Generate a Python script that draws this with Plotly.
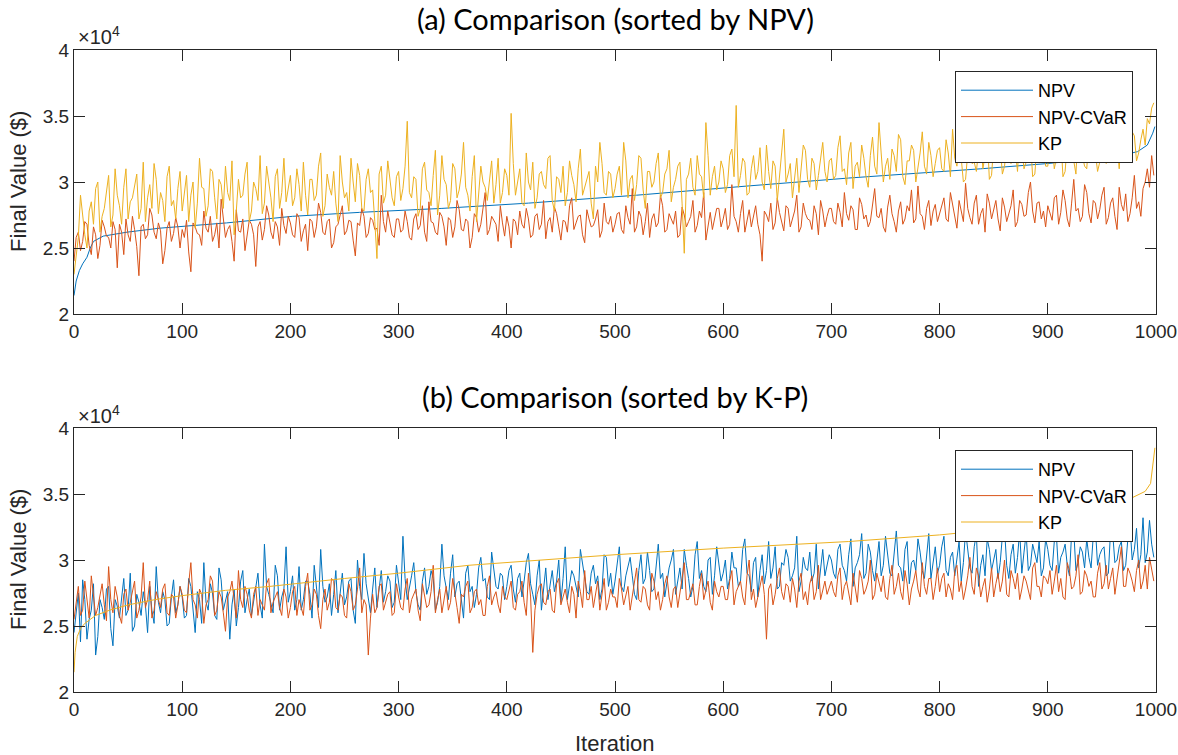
import plotly.graph_objects as go

# ---------------- data (values in units of 10^4 $) ----------------
iters = list(range(0, 1000, 4))          # sampled iterations (set 1)
iters_mid = list(range(2, 1000, 4))      # sampled iterations (set 2, in between)
x_ticks = list(range(0, 1001, 100))
y_ticks = [2, 2.5, 3, 3.5, 4]
y_tick_text = ["2", "2.5", "3", "3.5", "4"]

# (a) sorted by NPV: NPV curve (smooth, sorted)
a_npv_x = [0, 2, 5, 8, 12, 15, 18, 27, 49, 79, 141, 202, 264, 340, 420, 520, 623, 716, 838, 900, 962, 983, 992, 997, 999]
a_npv_y = [2.14, 2.25, 2.33, 2.38, 2.43, 2.50, 2.55, 2.59, 2.62, 2.65, 2.69, 2.74, 2.77, 2.80, 2.84, 2.90, 2.97, 3.03, 3.10, 3.14, 3.19, 3.23, 3.28, 3.37, 3.42]

a_cvar = [
    2.40, 2.62, 2.55, 2.68, 2.45, 2.60, 2.52, 2.66, 2.58, 2.70, 2.35, 2.62, 2.72, 2.55, 2.64, 2.29, 2.68, 2.60, 2.75, 2.57, 2.63, 2.48, 2.70, 2.61, 2.66,
    2.64, 2.71, 2.32, 2.66, 2.60, 2.78, 2.62, 2.55, 2.69, 2.87, 2.58, 2.67, 2.40, 2.63, 2.72, 2.59, 2.68, 2.36, 2.70, 2.64, 2.75, 2.57, 2.66, 2.80, 2.61,
    2.69, 2.58, 2.73, 2.63, 2.48, 2.70, 2.66, 2.77, 2.60, 2.72, 2.54, 2.68, 2.82, 2.63, 2.70, 2.44, 2.67, 2.74, 2.61, 2.71, 2.65, 2.90, 2.62, 2.69, 2.58,
    2.72, 2.64, 2.70, 2.56, 2.76, 2.67, 2.62, 2.85, 2.69, 2.60, 2.74, 2.52, 2.71, 2.66, 2.79, 2.63, 2.70, 2.58, 2.73, 2.68, 2.92, 2.64, 2.71, 2.55, 2.69,
    2.74, 2.50, 2.70, 2.78, 2.65, 2.72, 2.60, 2.76, 2.68, 2.57, 2.73, 2.81, 2.66, 2.71, 2.62, 2.88, 2.69, 2.75, 2.54, 2.72, 2.67, 2.79, 2.63, 2.70, 2.74,
    2.68, 2.77, 2.61, 2.73, 2.95, 2.66, 2.74, 2.70, 2.58, 2.76, 2.69, 2.82, 2.64, 2.72, 2.78, 2.60, 2.75, 2.70, 2.86, 2.67, 2.73, 2.56, 2.77, 2.71, 2.80,
    2.72, 2.64, 2.98, 2.70, 2.76, 2.62, 2.79, 2.73, 2.68, 2.40, 2.75, 2.84, 2.69, 2.77, 2.63, 2.80, 2.72, 2.90, 2.66, 2.76, 2.71, 2.82, 2.60, 2.78, 2.74,
    2.80, 2.68, 2.77, 2.92, 2.71, 2.79, 2.64, 2.83, 2.75, 2.70, 2.95, 2.73, 2.66, 2.81, 2.76, 2.62, 2.85, 2.72, 2.78, 2.69, 2.97, 2.74, 2.80, 2.67, 2.83,
    2.76, 2.88, 2.70, 2.82, 2.65, 2.79, 2.99, 2.73, 2.84, 2.68, 2.80, 2.91, 2.72, 2.86, 2.63, 2.81, 2.77, 2.94, 2.70, 2.83, 2.75, 3.00, 2.69, 2.85, 2.78,
    2.82, 2.71, 2.90, 2.77, 2.86, 2.66, 3.02, 2.80, 2.74, 2.92, 2.69, 2.84, 2.79, 2.96, 2.73, 2.88, 2.64, 2.83, 2.91, 2.76, 3.05, 2.85, 2.95, 3.10, 3.20,
]
a_cvar_mid = [
    2.58, 2.48, 2.70, 2.52, 2.66, 2.42, 2.71, 2.59, 2.50, 2.64, 2.68, 2.45, 2.60, 2.74, 2.51, 2.66, 2.57, 2.80, 2.62, 2.69, 2.38, 2.65, 2.55, 2.73, 2.50,
    2.58, 2.47, 2.69, 2.61, 2.52, 2.65, 2.74, 2.60, 2.50, 2.70, 2.64, 2.55, 2.79, 2.62, 2.48, 2.71, 2.60, 2.66, 2.56, 2.82, 2.62, 2.70, 2.52, 2.67, 2.74,
    2.60, 2.76, 2.55, 2.68, 2.72, 2.58, 2.84, 2.62, 2.70, 2.50, 2.66, 2.76, 2.60, 2.71, 2.56, 2.69, 2.80, 2.58, 2.73, 2.64, 2.52, 2.70, 2.78, 2.60, 2.72,
    2.62, 2.78, 2.58, 2.72, 2.64, 2.82, 2.55, 2.70, 2.62, 2.77, 2.66, 2.73, 2.58, 2.86, 2.64, 2.72, 2.50, 2.76, 2.62, 2.80, 2.60, 2.74, 2.68, 2.82, 2.59,
    2.66, 2.72, 2.60, 2.68, 2.80, 2.58, 2.74, 2.64, 2.86, 2.70, 2.62, 2.76, 2.56, 2.70, 2.82, 2.64, 2.74, 2.60, 2.79, 2.66, 2.72, 2.58, 2.84, 2.68, 2.62,
    2.76, 2.64, 2.82, 2.68, 2.62, 2.78, 2.60, 2.84, 2.72, 2.66, 2.90, 2.62, 2.76, 2.68, 2.58, 2.81, 2.66, 2.74, 2.62, 2.78, 2.92, 2.68, 2.64, 2.80, 2.66,
    2.80, 2.68, 2.74, 2.62, 2.86, 2.72, 2.66, 2.82, 2.60, 2.78, 2.70, 2.64, 2.88, 2.70, 2.82, 2.66, 2.78, 2.62, 2.84, 2.72, 2.64, 2.76, 2.86, 2.66, 2.80,
    2.70, 2.84, 2.66, 2.76, 2.82, 2.64, 2.88, 2.72, 2.66, 2.84, 2.74, 2.80, 2.62, 2.90, 2.70, 2.78, 2.68, 2.82, 2.94, 2.72, 2.76, 2.64, 2.86, 2.78, 2.70,
    2.84, 2.72, 2.92, 2.74, 2.86, 2.70, 2.80, 2.68, 2.90, 2.76, 2.62, 2.84, 2.78, 2.72, 2.88, 2.70, 2.82, 2.66, 2.86, 2.74, 2.92, 2.78, 2.84, 2.72, 2.66,
    2.76, 2.88, 2.68, 2.94, 2.72, 2.84, 2.78, 2.70, 2.98, 2.76, 2.86, 2.72, 2.90, 2.68, 2.84, 2.74, 2.96, 2.78, 2.70, 2.88, 2.80, 2.74, 3.00, 2.96, 3.05,
]

a_kp = [
    2.30, 2.58, 2.72, 2.50, 2.85, 2.95, 2.62, 2.80, 3.05, 2.75, 2.90, 2.68, 3.10, 2.85, 2.98, 2.72, 3.15, 2.88, 2.80, 3.02, 2.92, 2.70, 3.12, 2.86, 2.95,
    2.78, 3.05, 2.90, 2.65, 3.18, 2.95, 2.82, 3.08, 2.72, 2.98, 3.12, 2.86, 2.60, 3.02, 2.90, 3.15, 2.78, 2.95, 3.20, 2.84, 3.00, 2.70, 3.10, 2.92, 2.85,
    3.05, 2.88, 2.98, 3.15, 2.75, 3.02, 2.90, 3.22, 2.82, 2.96, 3.08, 2.70, 3.00, 2.92, 3.18, 2.85, 3.05, 2.78, 3.10, 2.94, 2.42, 3.12, 2.90, 3.00, 2.82,
    3.08, 2.95, 3.46, 2.88, 3.02, 2.80, 3.15, 2.92, 3.05, 2.75, 3.20, 2.98, 2.86, 3.10, 2.94, 3.30, 2.90, 3.04, 2.70, 3.12, 2.96, 3.00, 2.84, 3.18, 2.92,
    3.05, 3.52, 2.90, 3.10, 2.82, 3.00, 3.15, 2.88, 3.08, 2.95, 3.20, 2.78, 3.02, 3.12, 2.92, 3.05, 2.85, 3.25, 2.96, 3.08, 2.72, 3.00, 3.14, 2.90, 3.06,
    2.95, 3.12, 3.30, 2.88, 3.05, 2.98, 3.18, 2.80, 3.08, 3.00, 3.22, 2.92, 3.10, 2.85, 3.02, 3.15, 2.46, 3.06, 2.96, 3.20, 3.04, 3.45, 2.90, 3.12, 3.00,
    3.10, 2.98, 3.25, 3.58, 3.05, 3.15, 2.92, 3.20, 3.08, 3.00, 3.28, 2.95, 3.12, 3.02, 3.40, 3.06, 2.88, 3.18, 3.10, 3.24, 2.96, 3.14, 3.05, 3.30, 3.00,
    3.18, 3.05, 3.35, 3.10, 3.22, 2.95, 3.15, 3.28, 3.04, 3.20, 3.12, 3.45, 3.00, 3.18, 3.25, 3.08, 3.32, 2.98, 3.16, 3.24, 3.10, 3.38, 3.06, 3.20, 3.14,
    3.26, 3.08, 3.22, 3.40, 3.12, 3.18, 3.02, 3.30, 3.15, 3.24, 3.10, 3.36, 3.05, 3.20, 3.28, 3.12, 3.42, 3.18, 3.08, 3.25, 3.15, 3.32, 3.06, 3.22, 3.30,
    3.12, 3.28, 3.18, 3.35, 3.08, 3.24, 3.16, 3.40, 3.20, 3.10, 3.30, 3.22, 3.15, 3.38, 3.25, 3.18, 3.32, 3.45, 3.20, 3.28, 3.35, 3.22, 3.40, 3.48, 3.56,
]
a_kp_mid = [
    2.45, 2.90, 2.60, 2.78, 2.68, 3.00, 2.74, 2.92, 2.66, 3.10, 2.82, 2.96, 2.72, 2.88, 3.06, 2.80, 2.70, 2.98, 3.14, 2.76, 2.86, 3.04, 2.82, 2.72, 3.08,
    2.92, 2.70, 3.00, 2.84, 2.96, 2.74, 3.10, 2.88, 3.02, 2.80, 2.92, 3.16, 2.78, 2.88, 3.06, 2.70, 3.00, 2.86, 2.76, 3.12, 2.88, 3.04, 2.80, 3.18, 2.94,
    2.82, 3.10, 2.78, 2.90, 3.02, 2.86, 3.12, 2.74, 3.06, 2.90, 2.84, 3.20, 2.88, 2.78, 3.00, 3.14, 2.80, 3.02, 2.92, 2.70, 3.06, 2.84, 3.16, 2.88, 3.04,
    2.86, 3.12, 2.92, 3.04, 2.74, 3.10, 2.94, 2.82, 3.24, 2.90, 3.02, 2.80, 3.14, 2.88, 3.06, 2.96, 2.78, 3.20, 2.92, 3.00, 2.86, 3.16, 2.98, 2.84, 3.10,
    2.90, 3.14, 3.02, 2.84, 3.22, 2.94, 2.80, 3.06, 2.98, 3.18, 2.86, 3.04, 2.92, 2.82, 3.16, 2.98, 3.10, 2.90, 3.04, 2.84, 3.12, 3.30, 2.92, 3.08, 2.88,
    3.06, 2.90, 3.16, 3.02, 2.86, 3.20, 2.94, 3.08, 2.96, 3.14, 2.88, 3.06, 3.24, 2.96, 3.12, 2.84, 3.02, 3.18, 2.90, 3.06, 2.88, 3.20, 3.04, 2.94, 3.16,
    2.92, 3.20, 3.04, 2.96, 3.18, 2.90, 3.10, 3.02, 3.26, 2.94, 3.08, 3.16, 2.86, 3.22, 3.00, 3.14, 3.04, 2.92, 3.28, 3.02, 3.18, 2.94, 3.20, 3.08, 3.16,
    3.02, 3.26, 3.08, 2.98, 3.30, 3.12, 3.04, 3.18, 2.96, 3.34, 3.06, 3.22, 3.12, 3.02, 3.20, 3.36, 3.04, 3.16, 3.28, 3.00, 3.22, 3.12, 3.30, 3.04, 3.24,
    3.10, 3.32, 3.04, 3.18, 3.26, 3.00, 3.22, 3.14, 3.08, 3.34, 3.20, 3.02, 3.28, 3.16, 3.06, 3.30, 3.14, 3.24, 3.36, 3.10, 3.20, 3.04, 3.28, 3.16, 3.12,
    3.34, 3.10, 3.26, 3.04, 3.30, 3.18, 3.06, 3.28, 3.12, 3.36, 3.20, 3.08, 3.32, 3.14, 3.40, 3.22, 3.10, 3.30, 3.26, 3.38, 3.16, 3.32, 3.28, 3.44, 3.60,
]

# (b) sorted by K-P: KP curve (smooth, sorted)
b_kp_x = [0, 1, 3, 6, 10, 20, 33, 50, 75, 100, 140, 181, 250, 300, 365, 430, 500, 600, 716, 800, 851, 900, 940, 960, 978, 990, 995, 997, 999]
b_kp_y = [2.15, 2.30, 2.42, 2.48, 2.52, 2.58, 2.62, 2.66, 2.70, 2.73, 2.77, 2.80, 2.86, 2.90, 2.96, 3.00, 3.04, 3.09, 3.14, 3.19, 3.23, 3.27, 3.32, 3.40, 3.47, 3.52, 3.58, 3.70, 3.85]

b_npv = [
    2.45, 2.75, 2.85, 2.40, 2.62, 2.28, 2.70, 2.55, 2.80, 2.35, 2.65, 2.72, 2.58, 2.90, 2.50, 2.68, 2.76, 2.45, 2.62, 2.95, 2.60, 2.70, 2.52, 2.85, 2.66,
    2.72, 2.58, 2.80, 2.45, 2.70, 2.98, 2.62, 2.75, 2.55, 2.85, 2.68, 2.40, 2.78, 2.64, 2.92, 2.70, 2.58, 2.82, 2.66, 3.12, 2.74, 2.60, 2.88, 2.72, 3.10,
    2.76, 2.62, 2.95, 2.70, 2.84, 2.56, 2.78, 3.08, 2.68, 2.82, 2.74, 2.60, 2.90, 2.72, 2.86, 2.52, 2.80, 3.05, 2.70, 2.78, 2.64, 2.92, 2.76, 2.84, 2.68,
    2.82, 3.18, 2.70, 2.88, 2.76, 2.62, 2.94, 2.80, 2.86, 2.68, 3.12, 2.78, 2.90, 2.72, 2.84, 2.56, 2.96, 2.80, 2.74, 3.02, 2.86, 2.70, 2.92, 2.78, 2.88,
    2.80, 2.96, 2.68, 2.90, 2.84, 3.05, 2.74, 2.88, 2.62, 2.94, 2.82, 2.76, 3.00, 2.86, 2.70, 2.92, 2.80, 3.08, 2.84, 2.74, 2.96, 2.88, 2.78, 3.02, 2.90,
    2.84, 3.10, 2.76, 2.96, 2.88, 2.70, 3.04, 2.86, 2.92, 2.78, 3.12, 2.90, 2.82, 3.00, 2.74, 2.94, 3.08, 2.86, 2.80, 3.14, 2.92, 2.76, 3.02, 2.88, 2.96,
    2.90, 2.78, 3.06, 2.94, 2.84, 3.16, 2.88, 2.98, 2.72, 3.04, 2.92, 2.86, 3.10, 2.80, 2.96, 3.02, 2.88, 3.18, 2.84, 2.94, 3.06, 2.90, 2.78, 3.08, 2.96,
    3.00, 2.86, 3.12, 2.92, 3.04, 2.80, 2.98, 3.20, 2.90, 3.06, 2.84, 3.14, 2.96, 3.02, 2.88, 3.22, 2.94, 3.08, 2.82, 3.00, 3.16, 2.92, 3.04, 2.86, 3.10,
    2.96, 3.18, 2.88, 3.06, 3.00, 2.84, 3.22, 2.94, 3.10, 2.80, 3.04, 3.16, 2.92, 3.08, 2.98, 3.24, 2.86, 3.12, 3.02, 2.90, 3.20, 2.96, 3.06, 3.14, 2.94,
    3.08, 2.92, 3.18, 3.02, 3.12, 2.88, 3.22, 2.98, 3.06, 3.16, 2.94, 3.24, 3.04, 3.10, 2.90, 3.20, 3.00, 3.14, 2.96, 3.26, 3.08, 2.94, 3.32, 3.06, 3.12,
]
b_npv_mid = [
    2.60, 2.38, 2.70, 2.55, 2.82, 2.42, 2.64, 2.78, 2.48, 2.70, 2.56, 2.86, 2.62, 2.46, 2.74, 2.58, 2.66, 2.80, 2.52, 2.68, 2.76, 2.50, 2.72, 2.60, 2.80,
    2.56, 2.86, 2.64, 2.76, 2.52, 2.68, 2.82, 2.58, 2.94, 2.62, 2.76, 2.66, 2.50, 2.84, 2.60, 2.78, 2.70, 2.90, 2.56, 2.80, 2.66, 2.96, 2.62, 2.78, 2.68,
    2.88, 2.70, 2.62, 2.84, 2.74, 2.96, 2.64, 2.80, 2.72, 2.58, 2.92, 2.76, 2.66, 2.84, 2.62, 3.00, 2.70, 2.82, 2.60, 2.94, 2.78, 2.68, 2.88, 2.64, 2.96,
    2.70, 2.86, 2.78, 2.98, 2.66, 2.84, 2.74, 2.92, 2.62, 2.80, 2.88, 2.70, 3.04, 2.82, 2.68, 2.90, 2.76, 2.64, 2.94, 2.84, 2.72, 3.06, 2.80, 2.90, 2.70,
    2.92, 2.78, 2.86, 2.72, 2.98, 2.82, 2.66, 3.00, 2.78, 2.70, 2.92, 2.84, 2.68, 3.10, 2.80, 2.88, 2.72, 2.96, 2.76, 2.90, 2.82, 2.70, 3.04, 2.80, 2.74,
    2.96, 2.80, 2.88, 3.02, 2.74, 2.92, 2.82, 3.06, 2.76, 2.98, 2.86, 2.72, 2.94, 3.08, 2.84, 2.78, 2.96, 2.72, 3.04, 2.86, 2.80, 3.00, 2.74, 3.10, 2.84,
    3.00, 2.86, 2.94, 2.80, 3.08, 2.90, 2.76, 3.02, 2.92, 2.82, 3.14, 2.94, 2.78, 2.98, 3.08, 2.84, 2.94, 2.76, 3.02, 2.92, 2.84, 3.12, 2.96, 2.88, 3.04,
    2.90, 3.08, 2.96, 2.84, 3.16, 2.94, 3.04, 2.86, 3.12, 2.92, 3.00, 2.88, 3.18, 2.90, 3.06, 2.96, 2.84, 3.14, 2.98, 2.92, 3.06, 2.86, 3.20, 2.98, 2.90,
    3.10, 2.92, 3.02, 2.88, 3.14, 2.98, 3.06, 2.90, 3.20, 2.96, 2.88, 3.08, 3.00, 2.86, 3.18, 2.96, 3.04, 2.90, 3.22, 3.06, 2.92, 3.12, 2.98, 2.88, 3.16,
    2.96, 3.14, 2.90, 3.06, 2.96, 3.20, 2.92, 3.10, 2.94, 3.02, 3.18, 2.96, 3.08, 2.88, 3.22, 2.98, 3.10, 2.92, 3.16, 3.00, 3.24, 3.04, 2.98, 3.30, 3.02,
]

b_cvar = [
    2.55, 2.80, 2.62, 2.70, 2.88, 2.58, 2.74, 2.66, 2.95, 2.60, 2.72, 2.52, 2.78, 2.68, 2.84, 2.62, 2.98, 2.70, 2.56, 2.76, 2.64, 2.82, 2.58, 2.72, 2.66,
    2.74, 2.60, 2.98, 2.66, 2.78, 2.52, 2.70, 2.84, 2.62, 2.72, 2.46, 2.76, 2.68, 2.92, 2.64, 2.74, 2.56, 2.80, 2.70, 2.62, 2.86, 2.68, 2.76, 2.58, 2.72,
    2.64, 2.80, 2.70, 2.58, 2.90, 2.66, 2.74, 2.48, 2.78, 2.68, 2.84, 2.62, 2.72, 2.56, 2.76, 2.66, 2.94, 2.70, 2.28, 2.74, 2.64, 2.82, 2.68, 2.76, 2.60,
    2.72, 2.62, 2.86, 2.70, 2.78, 2.54, 2.74, 2.66, 2.96, 2.70, 2.60, 2.80, 2.68, 2.76, 2.52, 2.72, 2.84, 2.64, 2.78, 2.70, 2.58, 2.88, 2.72, 2.66, 2.80,
    2.70, 2.84, 2.62, 2.76, 2.68, 2.90, 2.30, 2.74, 2.82, 2.66, 2.78, 2.60, 2.86, 2.72, 2.68, 2.80, 2.56, 2.76, 2.92, 2.70, 2.64, 2.84, 2.74, 2.62, 2.78,
    2.72, 2.86, 2.66, 2.80, 2.74, 2.94, 2.68, 2.78, 2.62, 2.84, 2.76, 2.70, 2.88, 2.64, 2.80, 2.74, 2.98, 2.70, 2.82, 2.66, 2.90, 2.76, 2.68, 2.84, 2.72,
    2.80, 2.70, 2.92, 2.76, 2.84, 2.66, 3.00, 2.78, 2.72, 2.88, 2.40, 2.82, 2.74, 2.94, 2.70, 2.80, 2.86, 2.64, 2.90, 2.76, 2.82, 2.70, 2.96, 2.78, 2.74,
    2.84, 2.72, 2.94, 2.80, 2.76, 2.90, 2.68, 2.86, 2.78, 3.00, 2.74, 2.82, 2.88, 2.70, 2.96, 2.80, 2.76, 2.92, 2.66, 2.84, 2.78, 2.98, 2.74, 2.86, 2.80,
    2.76, 2.90, 2.82, 2.70, 2.96, 2.84, 2.78, 3.02, 2.74, 2.88, 2.80, 2.68, 2.94, 2.82, 2.76, 3.00, 2.72, 2.86, 2.90, 2.78, 2.84, 2.70, 2.98, 2.80, 2.88,
    2.82, 2.74, 2.96, 2.86, 2.70, 2.92, 2.80, 3.04, 2.76, 2.88, 2.84, 2.72, 2.98, 2.82, 2.78, 2.94, 2.86, 3.10, 2.80, 2.90, 2.76, 3.00, 2.84, 2.78, 2.92,
]
b_cvar_mid = [
    2.68, 2.58, 2.84, 2.56, 2.72, 2.64, 2.82, 2.54, 2.70, 2.80, 2.58, 2.74, 2.62, 2.76, 2.56, 2.72, 2.64, 2.84, 2.62, 2.70, 2.78, 2.60, 2.74, 2.56, 2.80,
    2.62, 2.82, 2.70, 2.56, 2.74, 2.66, 2.88, 2.58, 2.76, 2.60, 2.72, 2.84, 2.56, 2.70, 2.80, 2.62, 2.74, 2.58, 2.66, 2.82, 2.60, 2.72, 2.64, 2.78, 2.56,
    2.76, 2.58, 2.64, 2.80, 2.62, 2.78, 2.58, 2.70, 2.62, 2.86, 2.64, 2.74, 2.58, 2.82, 2.62, 2.78, 2.60, 2.66, 2.56, 2.60, 2.80, 2.62, 2.74, 2.58, 2.82,
    2.64, 2.78, 2.60, 2.74, 2.62, 2.82, 2.64, 2.76, 2.60, 2.78, 2.72, 2.62, 2.86, 2.64, 2.74, 2.80, 2.60, 2.76, 2.66, 2.58, 2.80, 2.66, 2.76, 2.60, 2.72,
    2.78, 2.64, 2.74, 2.84, 2.58, 2.72, 2.62, 2.80, 2.68, 2.76, 2.62, 2.82, 2.66, 2.78, 2.60, 2.74, 2.84, 2.64, 2.70, 2.80, 2.74, 2.62, 2.86, 2.68, 2.72,
    2.64, 2.78, 2.74, 2.62, 2.84, 2.70, 2.80, 2.66, 2.90, 2.70, 2.62, 2.82, 2.72, 2.78, 2.64, 2.86, 2.70, 2.76, 2.66, 2.80, 2.70, 2.84, 2.62, 2.76, 2.80,
    2.70, 2.84, 2.66, 2.80, 2.72, 2.88, 2.70, 2.64, 2.82, 2.74, 2.78, 2.66, 2.86, 2.76, 2.82, 2.68, 2.78, 2.84, 2.70, 2.66, 2.88, 2.76, 2.70, 2.84, 2.80,
    2.76, 2.88, 2.70, 2.84, 2.66, 2.80, 2.92, 2.74, 2.84, 2.70, 2.90, 2.76, 2.72, 2.86, 2.74, 2.90, 2.70, 2.82, 2.78, 2.92, 2.72, 2.80, 2.86, 2.70, 2.94,
    2.86, 2.72, 2.78, 2.92, 2.76, 2.70, 2.88, 2.80, 2.94, 2.72, 2.86, 2.78, 2.72, 2.90, 2.84, 2.74, 2.92, 2.78, 2.70, 2.88, 2.76, 2.94, 2.80, 2.72, 2.86,
    2.92, 2.84, 2.76, 2.72, 2.98, 2.78, 2.88, 2.74, 2.92, 2.80, 2.72, 2.90, 2.78, 2.96, 2.86, 2.74, 3.00, 2.80, 2.94, 2.84, 2.92, 2.78, 2.96, 3.02, 2.84,
]


def combine(vals, vals_mid):
    """Put both sampled sets in iteration order."""
    pairs = sorted(zip(iters + iters_mid, vals + vals_mid))
    return [p[0] for p in pairs], [p[1] for p in pairs]


# ---------------- styling ----------------
C_NPV, C_CVAR, C_KP = "#0072BD", "#D95319", "#EDB120"
AX = "#262626"
SANS = "Liberation Sans, Arial, sans-serif"
TICK_FONT = dict(family=SANS, size=19, color=AX)
W, H = 1178, 755
x0, x1 = 74 / W, 1156 / W
top_dom = [(H - 314) / H, (H - 50) / H]
bot_dom = [(H - 692) / H, (H - 428) / H]

fig = go.Figure()
LW = 1
ax_, ay_ = combine(a_cvar, a_cvar_mid)
kx_, ky_ = combine(a_kp, a_kp_mid)
bx_, by_ = combine(b_npv, b_npv_mid)
cx_, cy_ = combine(b_cvar, b_cvar_mid)

fig.add_trace(go.Scatter(x=a_npv_x, y=a_npv_y, mode="lines", name="NPV", line=dict(color=C_NPV, width=LW), xaxis="x", yaxis="y", legend="legend"))
fig.add_trace(go.Scatter(x=ax_, y=ay_, mode="lines", name="NPV-CVaR", line=dict(color=C_CVAR, width=LW), xaxis="x", yaxis="y", legend="legend"))
fig.add_trace(go.Scatter(x=kx_, y=ky_, mode="lines", name="KP", line=dict(color=C_KP, width=LW), xaxis="x", yaxis="y", legend="legend"))

fig.add_trace(go.Scatter(x=bx_, y=by_, mode="lines", name="NPV", line=dict(color=C_NPV, width=LW), xaxis="x2", yaxis="y2", legend="legend2"))
fig.add_trace(go.Scatter(x=cx_, y=cy_, mode="lines", name="NPV-CVaR", line=dict(color=C_CVAR, width=LW), xaxis="x2", yaxis="y2", legend="legend2"))
fig.add_trace(go.Scatter(x=b_kp_x, y=b_kp_y, mode="lines", name="KP", line=dict(color=C_KP, width=LW), xaxis="x2", yaxis="y2", legend="legend2"))

xcommon = dict(range=[0, 1000], tickvals=x_ticks, ticks="inside", ticklen=11, tickcolor=AX,
               showline=True, linecolor=AX, linewidth=1, mirror="allticks", showgrid=False,
               zeroline=False, tickfont=TICK_FONT, domain=[x0, x1], automargin=False)
ycommon = dict(range=[2, 4], tickvals=y_ticks, ticktext=y_tick_text, ticks="inside", ticklen=11,
               tickcolor=AX, showline=True, linecolor=AX, linewidth=1, mirror="allticks",
               showgrid=False, zeroline=False, tickfont=TICK_FONT, automargin=False)

legend_common = dict(bgcolor="white", bordercolor=AX, borderwidth=1,
                     font=dict(family=SANS, size=18, color="black"),
                     xanchor="left", yanchor="top", itemwidth=72, tracegroupgap=0)

fig.update_layout(
    width=W, height=H, autosize=False, margin=dict(l=0, r=0, t=0, b=0, pad=0, autoexpand=False),
    paper_bgcolor="white", plot_bgcolor="white",
    xaxis=dict(**xcommon, anchor="y"),
    yaxis=dict(**ycommon, domain=top_dom, anchor="x"),
    xaxis2=dict(**xcommon, anchor="y2"),
    yaxis2=dict(**ycommon, domain=bot_dom, anchor="x2"),
    legend=dict(**legend_common, x=955 / W, y=(H - 71) / H),
    legend2=dict(**legend_common, x=955 / W, y=(H - 450) / H),
    showlegend=True,
)

TITLE_FONT = dict(family="Lato, Open Sans, sans-serif", size=29, color="black")
LABEL_FONT = dict(family=SANS, size=22, color=AX)
xc = (x0 + x1) / 2
ann = [
    dict(text="(a) Comparison (sorted by NPV)", x=xc, y=(H - 18) / H, font=TITLE_FONT),
    dict(text="(b) Comparison (sorted by K-P)", x=xc, y=(H - 396) / H, font=TITLE_FONT),
    dict(text="Final Value ($)", x=18 / W, y=(top_dom[0] + top_dom[1]) / 2, textangle=-90, font=LABEL_FONT),
    dict(text="Final Value ($)", x=18 / W, y=(bot_dom[0] + bot_dom[1]) / 2, textangle=-90, font=LABEL_FONT),
    dict(text="Iteration", x=xc, y=(H - 743) / H, font=LABEL_FONT),
    dict(text="×10<sup>4</sup>", x=76 / W, y=(H - 36) / H, xanchor="left", font=dict(family=SANS, size=20, color=AX)),
    dict(text="×10<sup>4</sup>", x=76 / W, y=(H - 414) / H, xanchor="left", font=dict(family=SANS, size=20, color=AX)),
]
for a in ann:
    a.setdefault("xanchor", "center")
    a.update(xref="paper", yref="paper", yanchor="middle", showarrow=False)
fig.update_layout(annotations=ann)

fig.write_html("out.html", post_script="document.body.style.margin='0';document.body.style.overflow='hidden';")
